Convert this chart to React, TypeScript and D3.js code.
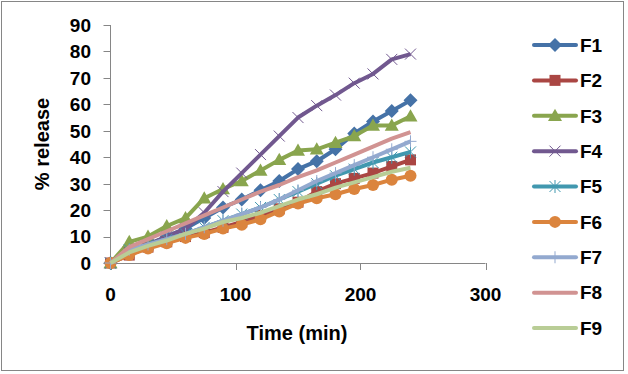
import React from 'react';
import * as d3 from 'd3';

// sampling times (min)
const times = [0, 15, 30, 45, 60, 75, 90, 105, 120, 135, 150, 165, 180, 195, 210, 225, 240];

const F1 = [0, 4, 7, 10, 13, 17, 21, 24, 27.5, 31, 35.5, 38.5, 43, 49, 53.5, 57.5, 61.5];
const F2 = [0, 3, 6, 8, 10, 11.5, 13.5, 15.5, 18, 20.5, 23, 27, 30, 32, 34, 36.5, 39];
const F3 = [0, 8, 10, 14, 17, 24.5, 28, 31, 35, 39, 42.5, 43, 45.5, 48, 52, 52, 55.5];
const F4 = [0, 4, 7, 10, 13, 19, 27, 34, 41, 48, 55, 59.5, 63.5, 68, 71.5, 77, 79];
const F5 = [0, 5, 7, 9, 11, 13.5, 16, 18.5, 21, 24, 27, 30, 33, 35.5, 38, 40, 42];
const F6 = [0, 3, 5.5, 7.5, 9.5, 11, 13, 14.5, 16.5, 19.5, 22.5, 24.5, 26, 28, 29.5, 31.5, 33];
const F7 = [0, 5, 7, 9, 11, 13.5, 16, 18.5, 21, 24, 27.5, 31, 34, 37, 40, 43, 46];
const F8 = [0, 6, 9, 12, 15, 18, 21, 24, 27, 29.5, 32.5, 35, 38, 41, 44, 47, 49.5];
const F9 = [0, 4, 6.5, 8.5, 11, 13, 15.5, 17, 19, 21.5, 24, 26, 28.5, 30.5, 32.5, 34.5, 36];

const names = ['F1', 'F2', 'F3', 'F4', 'F5', 'F6', 'F7', 'F8', 'F9'];
const values = [F1, F2, F3, F4, F5, F6, F7, F8, F9];
const colors = ['#4572A7', '#AA4643', '#89A54E', '#71588F', '#4198AF', '#DB843D', '#93A9CF', '#D19392', '#B9CD96'];
const markers = ['diamond', 'square', 'triangle', 'x', 'star', 'circle', 'plus', 'none', 'none'];

const xTicks = [0, 100, 200, 300];
const yTicks = [0, 10, 20, 30, 40, 50, 60, 70, 80, 90];

const W = 628;
const H = 374;
const FONT = '"Liberation Sans", Arial, sans-serif';
const AXIS = '#868686';

function Marker({ type, cx, cy, color }: { type: string; cx: number; cy: number; color: string }) {
  if (type === 'diamond') {
    const r = 7;
    return <path d={`M${cx},${cy - r}L${cx + r},${cy}L${cx},${cy + r}L${cx - r},${cy}Z`} fill={color} />;
  }
  if (type === 'square') {
    const r = 5.5;
    return <rect x={cx - r} y={cy - r} width={2 * r} height={2 * r} fill={color} />;
  }
  if (type === 'triangle') {
    const r = 7;
    return <path d={`M${cx},${cy - r}L${cx + r},${cy + r * 0.75}L${cx - r},${cy + r * 0.75}Z`} fill={color} />;
  }
  if (type === 'circle') {
    return <circle cx={cx} cy={cy} r={6} fill={color} />;
  }
  if (type === 'x') {
    const r = 5.5;
    return <path d={`M${cx - r},${cy - r}L${cx + r},${cy + r}M${cx - r},${cy + r}L${cx + r},${cy - r}`} stroke={color} strokeWidth={1} fill="none" />;
  }
  if (type === 'star') {
    const r = 5.5;
    return <path d={`M${cx - r},${cy - r}L${cx + r},${cy + r}M${cx - r},${cy + r}L${cx + r},${cy - r}M${cx},${cy - r - 1}L${cx},${cy + r + 1}`} stroke={color} strokeWidth={1} fill="none" />;
  }
  if (type === 'plus') {
    const r = 6;
    return <path d={`M${cx - r},${cy}L${cx + r},${cy}M${cx},${cy - r}L${cx},${cy + r}`} stroke={color} strokeWidth={1} fill="none" />;
  }
  return null;
}

export default function App() {
  const x = d3.scaleLinear().domain([0, 300]).range([110.5, 485.5]);
  const y = d3.scaleLinear().domain([0, 90]).range([263, 25]);

  const line = d3.line<number>()
    .x((_, i) => x(times[i]))
    .y(d => y(d));

  const legendY = d3.scalePoint<string>().domain(names).range([45, 328]);

  return (
    <svg width={W} height={H} style={{ position: 'absolute', left: 0, top: 0, background: '#fff' }} fontFamily={FONT}>
      <rect x={1.5} y={1.5} width={622} height={369} fill="#fff" stroke={AXIS} strokeWidth={1} />

      {/* y axis */}
      <line x1={x(0)} x2={x(0)} y1={y(90)} y2={y(0)} stroke={AXIS} strokeWidth={1} />
      {yTicks.map(t => (
        <g key={t}>
          <line x1={x(0) - 7} x2={x(0)} y1={Math.round(y(t)) + 0.5} y2={Math.round(y(t)) + 0.5} stroke={AXIS} />
          <text x={91} y={y(t)} dy="0.36em" textAnchor="end" fontSize={19} fontWeight="bold" fill="#000">{t}</text>
        </g>
      ))}

      {/* x axis */}
      <line x1={x(0)} x2={x(300)} y1={y(0) + 0.5} y2={y(0) + 0.5} stroke={AXIS} strokeWidth={1} />
      {xTicks.map(t => (
        <g key={t}>
          <line x1={Math.round(x(t)) + 0.5} x2={Math.round(x(t)) + 0.5} y1={y(0)} y2={y(0) + 7} stroke={AXIS} />
          <text x={x(t)} y={301} textAnchor="middle" fontSize={19} fontWeight="bold" fill="#000">{t}</text>
        </g>
      ))}

      <text x={297} y={340} textAnchor="middle" fontSize={20} fontWeight="bold" fill="#000">Time (min)</text>
      <text transform="translate(49,144) rotate(-90)" textAnchor="middle" fontSize={20} fontWeight="bold" fill="#000">% release</text>

      {/* series */}
      {values.map((vals, si) => (
        <g key={names[si]}>
          <path d={line(vals) || ''} fill="none" stroke={colors[si]} strokeWidth={4} strokeLinejoin="round" />
          {vals.map((v, i) => (
            <Marker key={i} type={markers[si]} cx={x(times[i])} cy={y(v)} color={colors[si]} />
          ))}
        </g>
      ))}

      {/* legend */}
      {names.map((n, i) => {
        const ly = legendY(n) as number;
        return (
          <g key={n}>
            <line x1={534} x2={576} y1={ly} y2={ly} stroke={colors[i]} strokeWidth={4} strokeLinecap="round" />
            <Marker type={markers[i]} cx={555} cy={ly} color={colors[i]} />
            <text x={580} y={ly} dy="0.36em" fontSize={19} fontWeight="bold" fill="#000">{n}</text>
          </g>
        );
      })}
    </svg>
  );
}
